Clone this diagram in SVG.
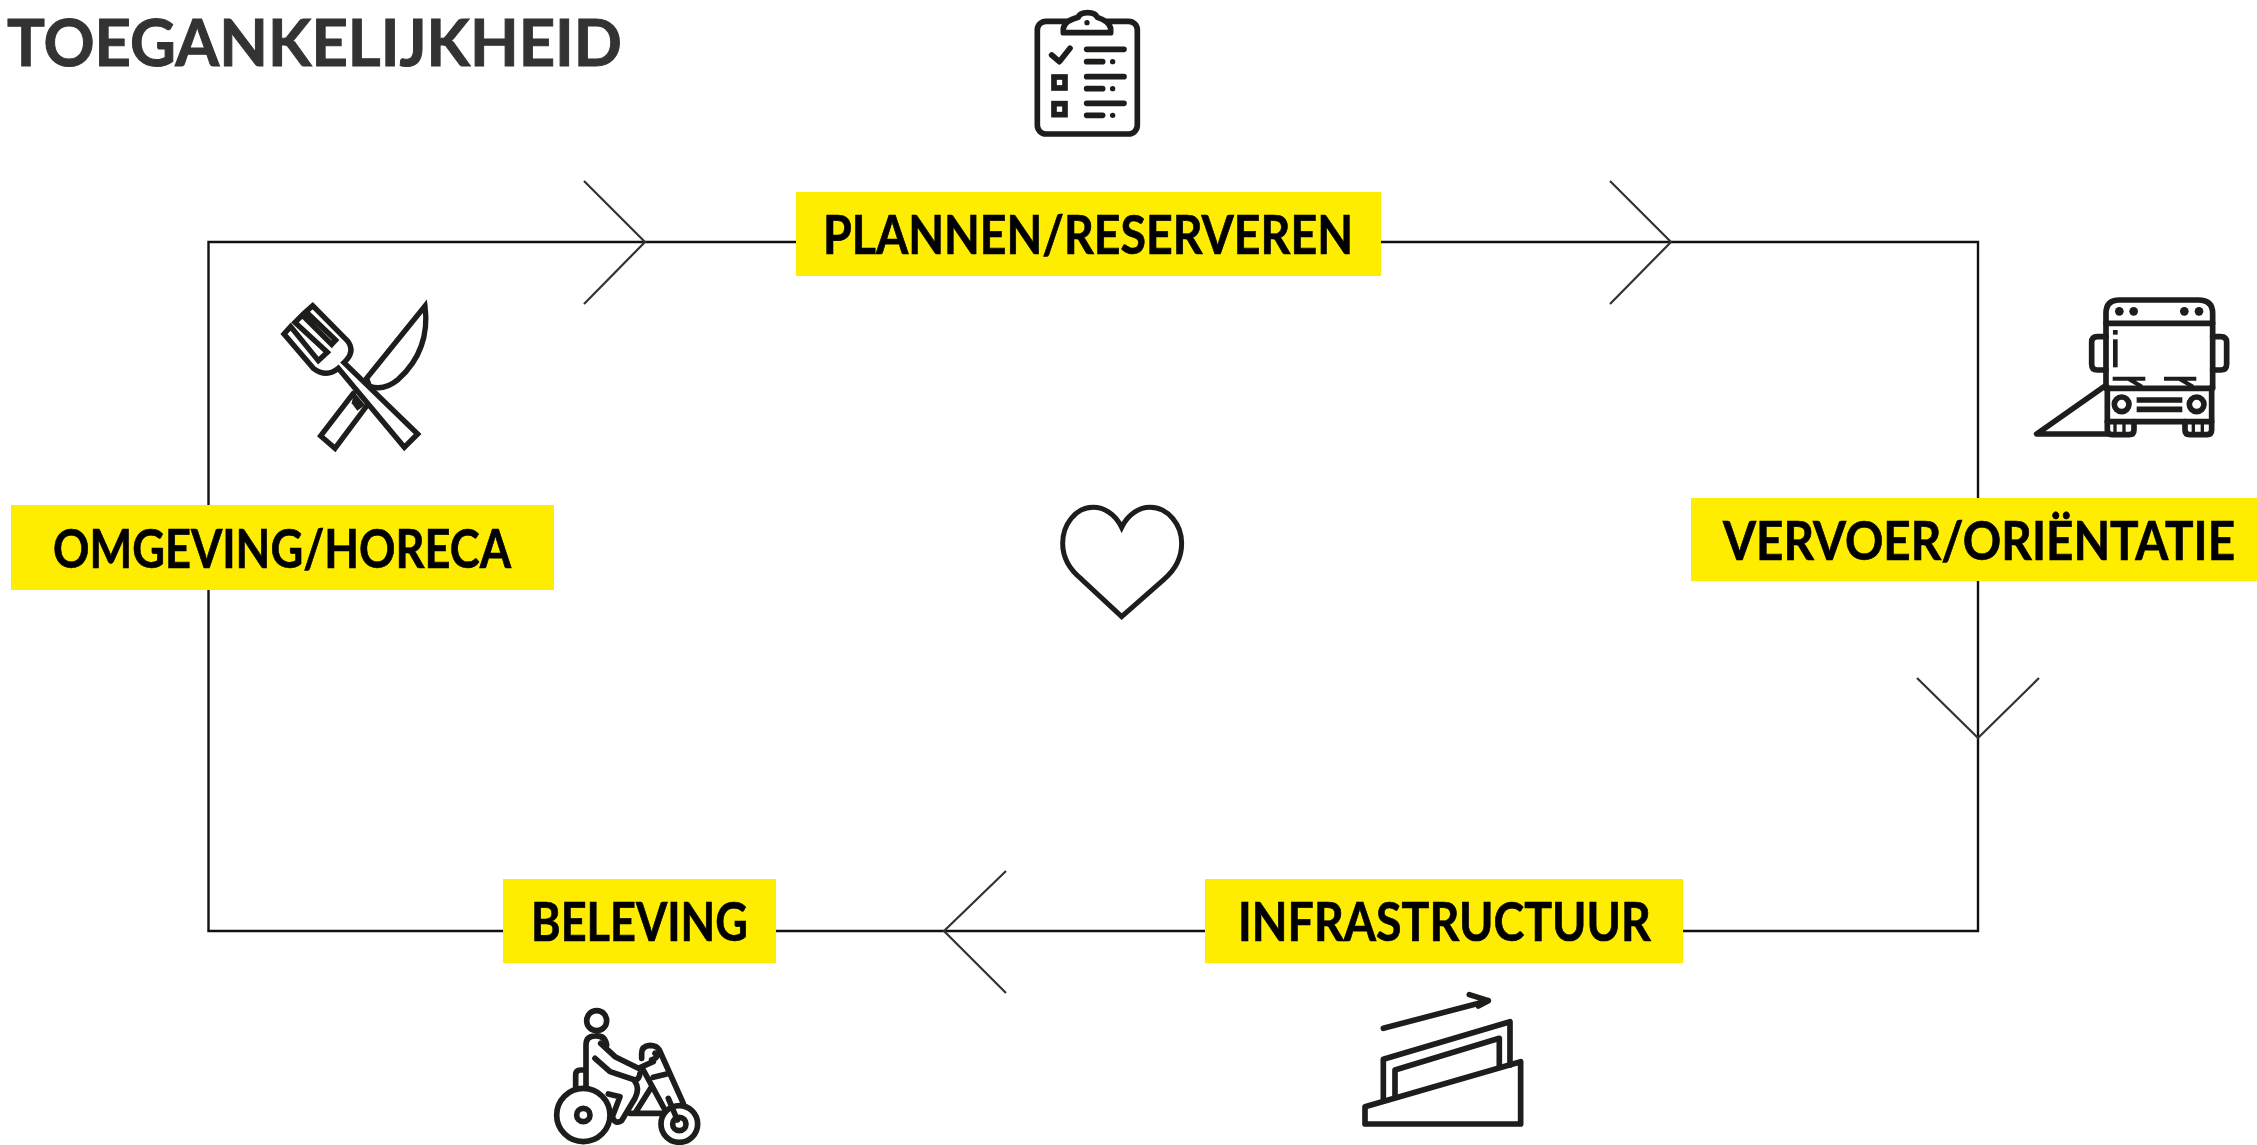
<svg xmlns="http://www.w3.org/2000/svg" width="2257" height="1145" viewBox="0 0 2257 1145">
<style>
.bg{fill:#ffed00}
.lb{font-family:"Lato","Liberation Sans",sans-serif;font-weight:700;font-size:54px;fill:#000;stroke:#000;stroke-width:.7}
.ic{fill:none;stroke:#1d1d1b;stroke-width:17;stroke-linecap:round;stroke-linejoin:round}
.dot{fill:#1d1d1b}
.cn{fill:none;stroke:#111;stroke-width:2.4}
.ch{fill:none;stroke:#333;stroke-width:2.2}
</style>
<rect width="2257" height="1145" fill="#fff"/>
<g id="connectors">
<path class="cn" d="M208.500 242H1978V931H208.500Z"/>
<path class="ch" d="M584 181L645 242L584 304"/>
<path class="ch" d="M1610 181L1671 242L1610 304"/>
<path class="ch" d="M1917 678L1978 738L2039 678"/>
<path class="ch" d="M1006 871L944 931L1006 993"/>
</g>
<text id="title" x="7" y="66" font-family="Lato,'Liberation Sans',sans-serif" font-weight="700" font-size="65" fill="#333" stroke="#333" stroke-width="1" textLength="615" lengthAdjust="spacingAndGlyphs">TOEGANKELIJKHEID</text>
<g id="node-plannen"><rect class="bg" x="796" y="192" width="585" height="84"/><text class="lb" x="823" y="254" textLength="530" lengthAdjust="spacingAndGlyphs">PLANNEN/RESERVEREN</text></g>
<g id="node-vervoer"><rect class="bg" x="1691" y="498" width="566" height="83"/><text class="lb" x="1723" y="560" textLength="512" lengthAdjust="spacingAndGlyphs">VERVOER/ORIËNTATIE</text></g>
<g id="node-omgeving"><rect class="bg" x="11" y="505" width="543" height="85"/><text class="lb" x="53" y="568" textLength="458" lengthAdjust="spacingAndGlyphs">OMGEVING/HORECA</text></g>
<g id="node-beleving"><rect class="bg" x="503" y="879" width="273" height="84"/><text class="lb" x="531" y="941" textLength="217" lengthAdjust="spacingAndGlyphs">BELEVING</text></g>
<g id="node-infrastructuur"><rect class="bg" x="1205" y="879" width="478" height="84"/><text class="lb" x="1238" y="941" textLength="413" lengthAdjust="spacingAndGlyphs">INFRASTRUCTUUR</text></g>
<g id="icon-clipboard" transform="translate(1010,0) scale(0.3333)">
<rect class="ic" x="82" y="64" width="300" height="338" rx="26"/>
<path class="ic" style="fill:#fff" d="M160 98H302V85Q298 64 262 52C255 33 210 33 205 52Q165 62 160 85Z"/>
<circle class="dot" cx="231" cy="68" r="8"/>
<path class="ic" d="M125 165L148 185L180 145"/>
<path class="ic" d="M230 148H342M230 185H278M230 230H342M230 266H278M230 310H342M230 346H278"/>
<circle class="dot" cx="308" cy="185" r="8"/><circle class="dot" cx="308" cy="266" r="8"/><circle class="dot" cx="308" cy="346" r="8"/>
<rect class="ic" style="stroke-linejoin:miter" x="132" y="231" width="33" height="33"/><rect class="ic" style="stroke-linejoin:miter" x="132" y="311" width="33" height="33"/>
</g>
<g id="icon-bus" transform="translate(2020,280) scale(0.3333)">
<path class="ic" d="M258 322V100Q258 60 298 60H535Q578 60 578 100V322"/>
<path class="ic" d="M258 130H578M258 325H578"/>
<path class="ic" d="M262 322V425H575V322"/>
<path class="ic" d="M258 170H232Q215 170 215 187V252Q215 270 232 270H258M578 170H602Q620 170 620 187V252Q620 270 602 270H578"/>
<path class="ic" d="M262 425V450Q262 464 276 464H328Q342 464 342 450V425M495 425V450Q495 464 509 464H561Q575 464 575 450V425"/>
<path class="ic" style="stroke-width:10" d="M285 430V460M312 430V460M520 430V460M547 430V460"/>
<circle class="dot" cx="298" cy="94" r="13"/><circle class="dot" cx="341" cy="94" r="13"/><circle class="dot" cx="493" cy="94" r="13"/><circle class="dot" cx="537" cy="94" r="13"/>
<circle class="ic" cx="305" cy="373" r="22"/><circle class="ic" cx="530" cy="373" r="22"/>
<path class="ic" style="stroke-linecap:butt" d="M350 360H487M350 388H487"/>
<rect class="dot" x="279" y="150" width="14" height="14"/>
<rect class="dot" x="279" y="178" width="14" height="84"/>
<path class="ic" style="stroke-width:12;stroke-linecap:butt" d="M278 296H376M325 296L366 320M432 296H529M478 296L519 320"/>
<path class="ic" d="M255 318L50 462H262"/>
</g>
<g id="icon-cutlery" transform="translate(270,290) scale(0.3333)">
<path class="ic" style="stroke-linejoin:miter;stroke-width:16" d="M465 48Q482 180 385 268Q340 305 298 288L290 265ZM250 310L152 438L195 475L290 348"/>
<path class="ic" style="fill:#fff;stroke-linejoin:miter;stroke-width:16" d="M128 47L232 152Q258 185 222 218L443 432L403 472L205 235Q170 265 130 235L42 132L62 110L145 212L172 187L75 97L97 75L185 163L197 150L108 65Z"/>
<path class="dot" d="M252 305L285 345L262 362L245 340Z"/>
</g>
<g id="icon-heart" transform="translate(1040,490) scale(0.3333)">
<path class="ic" style="stroke-width:15;stroke-linejoin:miter" d="M245 112C225 70 190 52 160 52C105 52 68 105 68 160C68 205 90 240 125 268L245 380L372 268C405 240 425 205 425 160C425 105 385 52 330 52C300 52 265 70 245 112Z"/>
</g>
<g id="icon-handbike" transform="translate(540,1000) scale(0.3333)">
<circle class="ic" cx="170" cy="62" r="30"/>
<path class="ic" d="M138 258V135Q138 108 165 108Q195 105 200 135"/>
<path class="ic" d="M182 130L225 170L295 205L340 185"/>
<path class="ic" d="M165 175L210 215L285 240Q298 238 300 220"/>
<path class="ic" d="M130 210H122Q107 210 107 225V262"/>
<circle class="ic" cx="130" cy="345" r="80"/><circle class="ic" cx="130" cy="345" r="20"/>
<circle class="ic" cx="418" cy="372" r="55"/><circle class="ic" cx="418" cy="372" r="20"/>
<path class="ic" d="M205 282L240 290L217 350Q225 375 245 362L285 295Q300 265 285 245"/>
<path class="ic" d="M305 175V160Q305 138 330 136Q350 136 358 150L430 310M335 180Q360 170 345 160M310 210L375 330M340 232L380 222"/>
<path class="ic" d="M270 340H370M285 340L335 260M385 295L412 360"/>
</g>
<g id="icon-stairs" transform="translate(1340,980) scale(0.3333)">
<path class="ic" d="M130 145L445 62M388 44L445 62L415 78"/>
<path class="ic" d="M130 360V238L510 125V255"/>
<path class="ic" d="M165 345V270L478 175V262"/>
<path class="ic" d="M75 380L542 245V432H75Z"/>
</g>
</svg>
